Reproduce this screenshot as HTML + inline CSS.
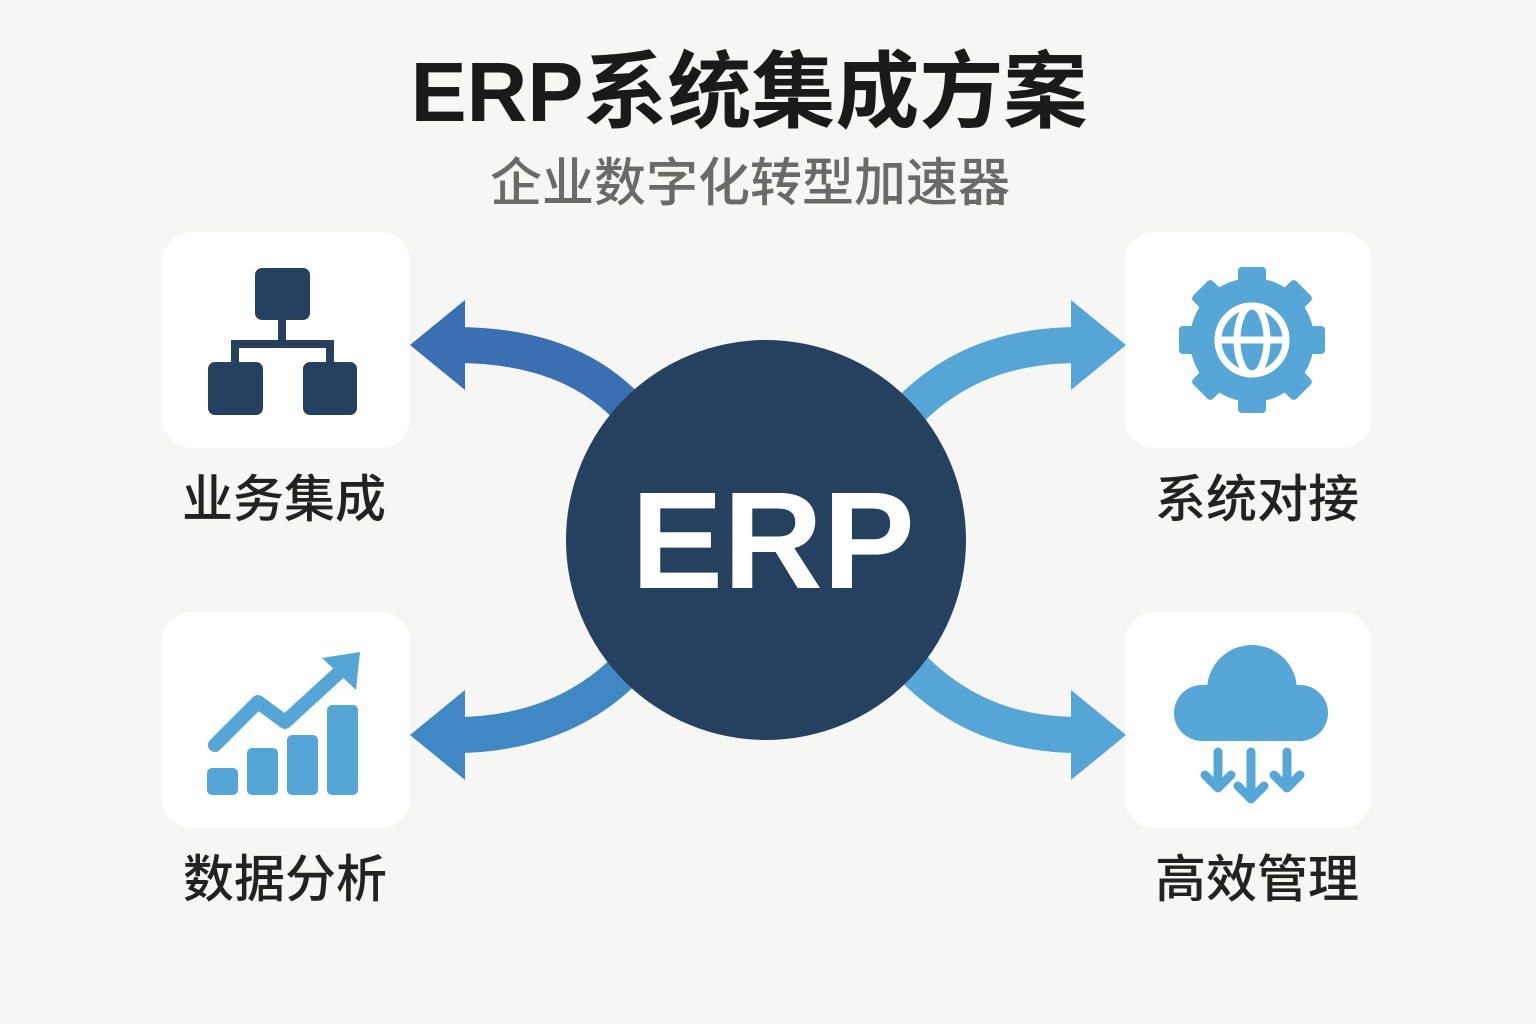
<!DOCTYPE html>
<html><head><meta charset="utf-8"><style>
html,body{margin:0;padding:0;background:#f6f6f4;}
svg{display:block}
</style></head><body>
<svg width="1536" height="1024" viewBox="0 0 1536 1024" xmlns="http://www.w3.org/2000/svg">
<rect width="1536" height="1024" fill="#f6f6f4"/>
<text x="749" y="121" text-anchor="middle" font-family="Liberation Sans, Noto Sans CJK SC, sans-serif" font-weight="bold" font-size="84" fill="#1a1a1a">ERP系统集成方案</text>
<text x="750" y="201" text-anchor="middle" font-family="Liberation Sans, Noto Sans CJK SC, sans-serif" font-weight="500" font-size="52" fill="#6a6a6a">企业数字化转型加速器</text>

<rect x="162" y="232" width="248" height="216" rx="30" fill="#fff"/>
<rect x="162" y="612" width="248" height="216" rx="30" fill="#fff"/>
<rect x="1125" y="232" width="246" height="216" rx="30" fill="#fff"/>
<rect x="1125" y="612" width="246" height="216" rx="30" fill="#fff"/>

<g fill="none" stroke-width="36">
<path d="M625,405 C580,360 520,345 455,345" stroke="#3a70b2"/>
<path d="M625,670 C580,715 520,735 455,735" stroke="#3f88c3"/>
<path d="M910,410 C955,365 1010,345 1080,345" stroke="#55a6d6"/>
<path d="M910,665 C955,712 1010,735 1080,735" stroke="#55a6d6"/>
</g>
<polygon points="410,345 465,300 465,390" fill="#3a70b2"/>
<polygon points="410,735 465,690 465,780" fill="#3f88c3"/>
<polygon points="1126,345 1071,300 1071,390" fill="#55a6d6"/>
<polygon points="1126,735 1071,690 1071,780" fill="#55a6d6"/>

<circle cx="766" cy="540" r="200" fill="#26405f"/>
<text x="773" y="588" text-anchor="middle" font-family="Liberation Sans, sans-serif" font-weight="bold" font-size="138" fill="#fff">ERP</text>

<g fill="#26405f">
<rect x="255" y="268" width="55" height="52" rx="7"/>
<rect x="208" y="362" width="55" height="53" rx="7"/>
<rect x="303" y="362" width="54" height="53" rx="7"/>
</g>
<path d="M282,318 V344 M235,364 V344 H330 V364" stroke="#26405f" stroke-width="8" fill="none"/>

<g fill="#55a6d6">
<rect x="207" y="768" width="31" height="27" rx="5"/>
<rect x="247" y="748" width="31" height="47" rx="5"/>
<rect x="287" y="735" width="31" height="60" rx="5"/>
<rect x="327" y="705" width="31" height="90" rx="5"/>
<path d="M215,745 L258,702 L285,722 L345,667" stroke="#55a6d6" stroke-width="14" fill="none" stroke-linejoin="round" stroke-linecap="round"/>
<polygon points="360,652 356,690 322,658"/>
</g>

<g fill="#56a7d8" transform="translate(1252,340)">
<circle r="62"/>
<g>
<rect x="-14" y="-73" width="28" height="30" rx="4"/>
<rect x="-14" y="-73" width="28" height="30" rx="4" transform="rotate(45)"/>
<rect x="-14" y="-73" width="28" height="30" rx="4" transform="rotate(90)"/>
<rect x="-14" y="-73" width="28" height="30" rx="4" transform="rotate(135)"/>
<rect x="-14" y="-73" width="28" height="30" rx="4" transform="rotate(180)"/>
<rect x="-14" y="-73" width="28" height="30" rx="4" transform="rotate(225)"/>
<rect x="-14" y="-73" width="28" height="30" rx="4" transform="rotate(270)"/>
<rect x="-14" y="-73" width="28" height="30" rx="4" transform="rotate(315)"/>
</g>
<g fill="none" stroke="#fff" stroke-width="7">
<circle r="34"/>
<ellipse rx="15" ry="34"/>
<line x1="-34" y1="0" x2="34" y2="0"/>
</g>
</g>

<g fill="#56a7d8">
<circle cx="1252" cy="690" r="45"/>
<rect x="1174" y="685" width="154" height="56" rx="28"/>
</g>
<g stroke="#56a7d8" stroke-width="9" fill="none" stroke-linecap="round" stroke-linejoin="round">
<path d="M1218,752 V785 M1205,775 L1218,788 L1231,775"/>
<path d="M1251,752 V797 M1238,786 L1251,799 L1264,786"/>
<path d="M1287,752 V785 M1274,775 L1287,788 L1300,775"/>
</g>

<g font-family="Liberation Sans, Noto Sans CJK SC, sans-serif" font-size="51" fill="#222" text-anchor="middle" font-weight="500">
<text x="284" y="517">业务集成</text>
<text x="285" y="897">数据分析</text>
<text x="1257" y="517">系统对接</text>
<text x="1257" y="897">高效管理</text>
</g>
</svg>
</body></html>
